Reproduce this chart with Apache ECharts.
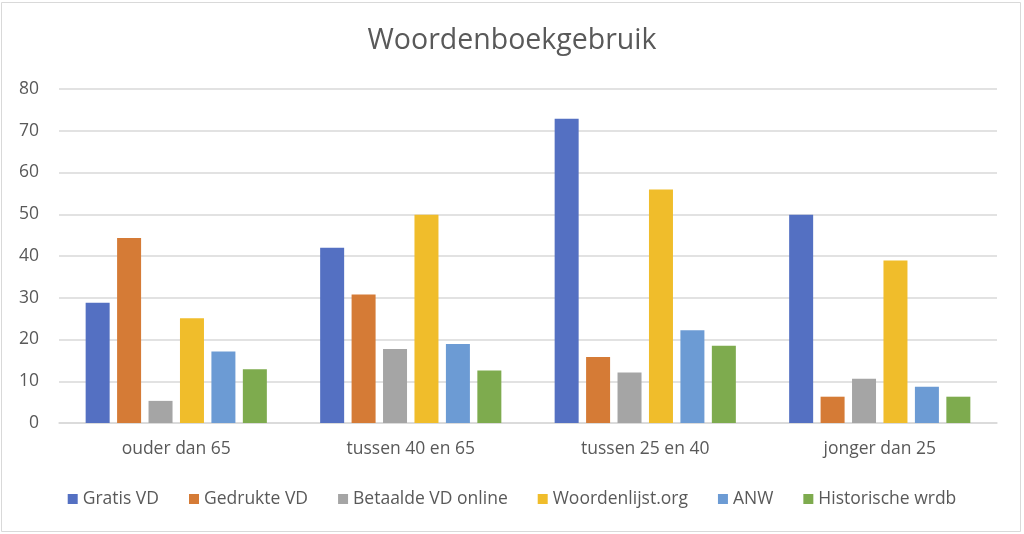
<!DOCTYPE html>
<html><head><meta charset="utf-8">
<script src="https://cdn.jsdelivr.net/npm/echarts@6/dist/echarts.min.js"></script>
<style>html,body{margin:0;padding:0;background:#fff}#c{width:1024px;height:534px}</style>
</head><body><div id="c"></div>
<script>
const categories = ['ouder dan 65', 'tussen 40 en 65', 'tussen 25 en 40', 'jonger dan 25'];
const seriesNames = ['Gratis VD', 'Gedrukte VD', 'Betaalde VD online', 'Woordenlijst.org', 'ANW', 'Historische wrdb'];
const gratisVD = [28.8, 42.0, 72.9, 49.9];
const gedrukteVD = [44.3, 30.8, 15.8, 6.3];
const betaaldeVD = [5.3, 17.7, 12.1, 10.6];
const woordenlijst = [25.1, 49.9, 55.9, 38.9];
const anw = [17.1, 18.9, 22.2, 8.7];
const historisch = [12.9, 12.6, 18.5, 6.3];
const yTicks = [0, 10, 20, 30, 40, 50, 60, 70, 80];
const colors = ['#5470C2', '#D57B36', '#A5A5A5', '#F0BD2B', '#6C9BD4', '#7EAB4E'];

const values = [gratisVD, gedrukteVD, betaaldeVD, woordenlijst, anw, historisch];
const font = '"Open Sans", "Noto Sans", sans-serif';
const chart = echarts.init(document.getElementById('c'));
chart.setOption({
  animation: false,
  color: colors,
  title: { text: 'Woordenboekgebruik', left: 'center', top: 21,
    textStyle: { fontFamily: font, fontSize: 28.5, fontWeight: 'normal', color: '#595959' } },
  graphic: [{ type: 'rect', shape: { x: 1.5, y: 2.5, width: 1019, height: 529 },
    style: { fill: 'none', stroke: '#d9d9d9', lineWidth: 1 }, silent: true }],
  legend: { bottom: 21, left: 'center', itemWidth: 10, itemHeight: 10, itemGap: 30, icon: 'rect',
    textStyle: { fontFamily: font, fontSize: 17.5, color: '#595959' } },
  grid: { left: 59, right: 27, top: 89, bottom: 111 },
  xAxis: { type: 'category', data: categories,
    axisLine: { lineStyle: { color: '#d9d9d9', width: 1.5 } }, axisTick: { show: false },
    axisLabel: { fontFamily: font, fontSize: 17.5, color: '#595959', margin: 17 } },
  yAxis: { type: 'value', min: yTicks[0], max: yTicks[yTicks.length - 1], interval: 10,
    axisLabel: { fontFamily: font, fontSize: 17.5, color: '#595959', margin: 20 },
    splitLine: { lineStyle: { color: '#d9d9d9', width: 1.5 } } },
  series: seriesNames.map((n, i) => ({ name: n, type: 'bar', data: values[i], barWidth: 24, barGap: '31%' }))
});
</script></body></html>
